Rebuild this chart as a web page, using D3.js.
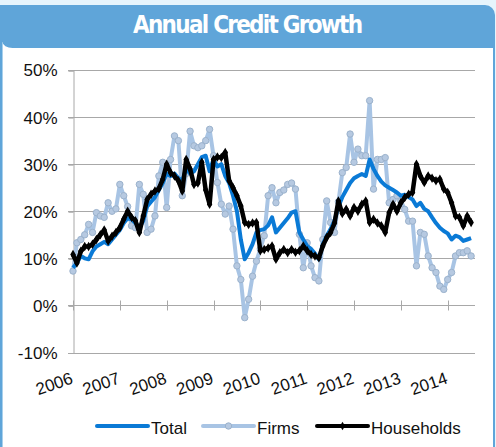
<!DOCTYPE html>
<html lang="en">
<head>
    <meta charset="UTF-8">
    <title>Annual Credit Growth</title>
    <style>
        body {
            margin: 0;
            background: #e6f4fc;
            font-family: "Liberation Sans", Arial, sans-serif;
        }
        svg {
            display: block;
        }
    </style>
</head>
<body>
<svg width="496" height="447" class="chart"></svg>

<script src="https://d3js.org/d3.v7.min.js"></script>
<script>
    // monthly data, Jan 2006 .. Jul 2014 (annual growth, %)
    const years = ["2006", "2007", "2008", "2009", "2010", "2011", "2012", "2013", "2014"];
    const yTicks = [-10, 0, 10, 20, 30, 40, 50];

    const total = [
        8, 9, 10.5, 10, 9.8, 11.5, 12.5, 13, 13.5, 13, 14, 15,
        16, 17.5, 18.5, 18.3, 17.5, 16.5, 18, 21, 22, 23, 24.5, 26,
        28, 27.5, 28, 27, 26.5, 29, 28, 28.5, 30, 31.5, 31.8, 28.5,
        31, 29.5, 30, 27.5, 26, 23.3, 20, 14, 9.8, 11.2, 13, 15.5,
        16, 16.2, 17, 18.7, 15.5, 16.5, 17.5, 18.5, 19.7, 20, 15.5, 14,
        12.6, 12, 11, 9.8, 13, 14.8, 16.2, 18, 21, 23, 24.5, 26,
        27, 27.5, 27.9, 27.5, 31, 29, 27.5, 26.3, 25.5, 25, 24.5, 24,
        23.3, 23.5, 23, 22.5, 21.1, 21.8, 20.5, 20, 18.7, 17.5, 16.5, 15.8,
        15.3, 14, 14.8, 14.5, 13.7, 14, 14.3
    ];

    const firms = [
        7.3, 13.3, 14, 15, 17.2, 15.5, 19.7, 19, 18.7, 21.8, 20, 20.5,
        25.7, 23.3, 21, 16.9, 16.5, 25.7, 23.6, 15.5, 16.2, 19, 27.5, 30.4,
        20.8, 31, 36, 35, 23.3, 28, 37, 33.9, 33.5, 33.9, 35, 37.4,
        31.8, 26.1, 21.5, 19.4, 21.1, 16.2, 8.4, 5.5, -2.6, 1.3, 6.2, 9.4,
        12, 14.8, 23.3, 25, 21.8, 24, 24.5, 25.7, 26, 24.7, 15.1, 8,
        13.3, 8.4, 5.9, 5.2, 14, 22.2, 17.6, 15.5, 22, 28.2, 29.3, 36.4,
        30.4, 33.2, 31.8, 31.8, 43.5, 24.7, 31, 31, 31.4, 21.8, 22.5, 23.3,
        22.2, 20.4, 17.9, 17.9, 8.4, 15.5, 15.1, 10.5, 8, 7, 4.1, 3.4,
        5.5, 7, 10.5, 11.2, 11.2, 11.6, 10.5
    ];

    const households = [
        10.8, 9, 11.5, 12.5, 12.5, 13, 14, 15, 16, 13.7, 14.7, 15.5,
        16.5, 18.3, 20, 18.7, 18, 15.5, 19, 22.5, 23.6, 24.3, 24.8, 26.8,
        30, 28.2, 27.5, 26.5, 24.3, 31, 29, 25.7, 26, 30.4, 24.5, 21.5,
        31, 31.5, 31.4, 32.5, 26.5, 25, 23.3, 21.1, 17.6, 17.2, 17.5, 17.6,
        11.6, 11.9, 12.2, 12.6, 9.8, 11.2, 11.9, 11.2, 11.9, 11.3, 11.6, 12.6,
        11.6, 10.8, 10.5, 10.1, 12.6, 14.4, 15.5, 17.5, 22.2, 19.5, 20.4, 19,
        20.8, 20, 21.5, 22.2, 17.6, 18.3, 17.5, 16.9, 15.5, 19.7, 21.5, 20,
        21.8, 22.9, 23.6, 24, 30, 27.5, 26.1, 27.5, 27, 26.5, 26.8, 24.7,
        24, 21.8, 19, 18.7, 16.9, 19, 17.6
    ];

    const svg = d3.select("svg");

    // frame: light page, blue header band, white panel
    svg.append("rect").attr("width", 496).attr("height", 447).attr("fill", "#e6f4fc");
    svg.append("rect").attr("x", 2.5).attr("y", 36).attr("width", 490.5).attr("height", 420).attr("fill", "#fff");
    svg.append("rect").attr("x", 0).attr("y", 5).attr("width", 2.5).attr("height", 442).attr("fill", "#5fa5d9");
    svg.append("rect").attr("x", 493).attr("y", 15).attr("width", 2).attr("height", 432).attr("fill", "#5fa5d9");
    svg.append("path")
        .attr("d", "M0,5 H485 A10,10 0 0 1 495,15 V48 H12.5 A10,6 0 0 1 2.5,42 H0 Z")
        .attr("fill", "#5fa5d9");

    svg.append("text")
        .attr("x", 248)
        .attr("y", 33)
        .attr("text-anchor", "middle")
        .attr("fill", "#fff")
        .attr("font-family", "'Liberation Sans Narrow', 'DejaVu Sans Condensed', Arial, sans-serif")
        .attr("font-weight", "bold")
        .attr("font-size", 24)
        .attr("textLength", 230)
        .attr("lengthAdjust", "spacing")
        .text("Annual Credit Growth");

    const xScale = d3.scaleLinear().domain([0, 103]).range([73, 475]),
        yScale = d3.scaleLinear().domain([-10, 50]).range([352.5, 70]);

    // gridlines
    svg.append("g")
        .selectAll("line")
        .data(yTicks)
        .join("line")
        .attr("x1", 68)
        .attr("x2", 475)
        .attr("y1", d => Math.round(yScale(d)) + 0.5)
        .attr("y2", d => Math.round(yScale(d)) + 0.5)
        .attr("stroke", "#a8a8a8");

    // y axis
    const yAxis = d3.axisLeft(yScale)
        .tickValues(yTicks)
        .tickSize(5)
        .tickPadding(11)
        .tickFormat(d => d + "%");

    const gY = svg.append("g")
        .attr("transform", "translate(73.5,0.5)")
        .call(yAxis);
    gY.select(".domain").attr("stroke", "#a8a8a8");
    gY.selectAll(".tick line").attr("stroke", "#a8a8a8");
    gY.selectAll(".tick text")
        .attr("font-family", "'Liberation Sans', Arial, sans-serif")
        .attr("font-size", 17)
        .attr("fill", "#111");

    // x axis ticks (cross) at zero line
    const yearIdx = years.map((y, i) => i * 12);
    const y0 = Math.round(yScale(0)) + 0.5;
    svg.append("g")
        .selectAll("line")
        .data(yearIdx)
        .join("line")
        .attr("x1", d => Math.round(xScale(d)) + 0.5)
        .attr("x2", d => Math.round(xScale(d)) + 0.5)
        .attr("y1", y0 - 5)
        .attr("y2", y0 + 5)
        .attr("stroke", "#a8a8a8");

    svg.append("g")
        .selectAll("text")
        .data(years)
        .join("text")
        .attr("transform", (d, i) => `translate(${xScale(i * 12) + 1},383) rotate(-19)`)
        .attr("text-anchor", "end")
        .attr("font-size", 17)
        .attr("fill", "#111")
        .text(d => d);

    // series
    const line = d3.line()
        .x((d, i) => xScale(i))
        .y(d => yScale(d));

    svg.append("path")
        .datum(firms)
        .attr("fill", "none")
        .attr("stroke", "#a8c4e4")
        .attr("stroke-width", 4)
        .attr("stroke-linejoin", "round")
        .attr("d", line);

    svg.append("g")
        .selectAll("circle")
        .data(firms)
        .join("circle")
        .attr("cx", (d, i) => xScale(i))
        .attr("cy", d => yScale(d))
        .attr("r", 3.2)
        .attr("fill", "#b6c9e1")
        .attr("stroke", "#9bb2cc")
        .attr("stroke-width", 1);

    svg.append("path")
        .datum(total)
        .attr("fill", "none")
        .attr("stroke", "#0a7ad6")
        .attr("stroke-width", 4)
        .attr("stroke-linejoin", "round")
        .attr("d", line);

    svg.append("path")
        .datum(households)
        .attr("fill", "none")
        .attr("stroke", "#000")
        .attr("stroke-width", 4.5)
        .attr("stroke-linejoin", "round")
        .attr("d", line);

    svg.append("g")
        .selectAll("path")
        .data(households)
        .join("path")
        .attr("transform", (d, i) => `translate(${xScale(i)},${yScale(d)})`)
        .attr("d", d3.symbol(d3.symbolDiamond, 26))
        .attr("fill", "#000");

    // legend
    const legendItems = [
        {name: "Total", color: "#0a7ad6", x: 97},
        {name: "Firms", color: "#a8c4e4", x: 203},
        {name: "Households", color: "#000", x: 317}
    ];
    const lg = svg.append("g").selectAll("g").data(legendItems).join("g")
        .attr("transform", d => `translate(${d.x},426)`);
    lg.append("line")
        .attr("x1", 0).attr("x2", 51)
        .attr("stroke", d => d.color)
        .attr("stroke-width", 4)
        .attr("stroke-linecap", "round");
    lg.filter(d => d.name === "Firms").append("circle")
        .attr("cx", 25.5).attr("r", 3.2)
        .attr("fill", "#b6c9e1").attr("stroke", "#9bb2cc");
    lg.filter(d => d.name === "Households").append("path")
        .attr("transform", "translate(25.5,0)")
        .attr("d", d3.symbol(d3.symbolDiamond, 22));
    lg.append("text")
        .attr("x", 54)
        .attr("y", 8)
        .attr("font-size", 17)
        .attr("fill", "#111")
        .text(d => d.name);
</script>
</body>
</html>
